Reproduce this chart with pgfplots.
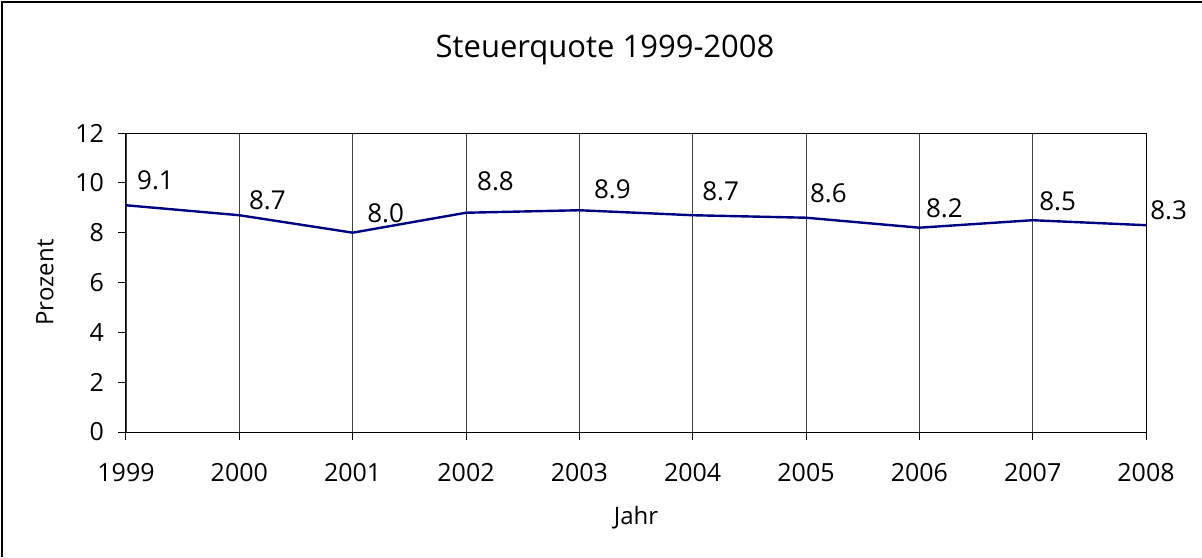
\documentclass[border=0pt]{standalone}
\usepackage{pgfplots}
\pgfplotsset{compat=1.18}
\usepackage{pgfplotstable}
\usepackage{fontspec}
\setmainfont{Open Sans}
\definecolor{excelnavy}{RGB}{0,0,128}

% year, value, label offset from the point (pt)
\pgfplotstableread{
year  val  dx    dy
1999  9.1  14.75 12.4
2000  8.7  14.0  7.5
2001  8.0  16.5  9.8
2002  8.8  14.75 15.5
2003  8.9  16.5  10.5
2004  8.7  14.0  12.0
2005  8.6  11.2  12.3
2006  8.2  12.5  9.8
2007  8.5  12.5  9.3
2008  8.3  11.3  7.5
}\quote

\begin{document}
\begin{tikzpicture}
\useasboundingbox (-63pt,-62.5pt) rectangle (538pt,216pt);
\draw[line width=0.8pt] (-62pt,-62.5pt) -- (-62pt,215pt) -- (538pt,215pt);
\begin{axis}[
    at={(0,0)}, anchor=south west,
    scale only axis,
    width=510pt, height=149.5pt,
    xmin=1999, xmax=2008,
    ymin=0, ymax=12,
    xtick=data,
    ytick={0,2,...,12},
    xticklabel style={/pgf/number format/1000 sep={}, font=\fontsize{12.5}{15}\selectfont, yshift=-8pt},
    yticklabel style={font=\fontsize{12.5}{15}\selectfont, xshift=-3.5pt},
    /pgf/number format/assume math mode=true,
    tick align=outside,
    tick pos=left,
    major tick length=4pt,
    tick style={black, line width=0.5pt},
    axis line style={line width=0.5pt},
    xmajorgrids,
    grid style={black!75, line width=0.45pt},
    title={Steuerquote 1999-2008},
    title style={font=\fontsize{15.5}{18}\selectfont, at={(0.4696,1)}, anchor=base, yshift=32pt},
    xlabel={Jahr},
    xlabel style={font=\fontsize{12}{14}\selectfont, at={(axis description cs:0.5,0)}, anchor=center, yshift=-43pt},
    ylabel={Prozent},
    ylabel style={font=\fontsize{12}{14}\selectfont, at={(axis description cs:-0.0794,0.5)}, anchor=center},
    clip=false,
]
\addplot[excelnavy, line width=1.2pt, no marks,
    visualization depends on={\thisrow{dx} \as \labdx},
    visualization depends on={\thisrow{dy} \as \labdy},
    nodes near coords,
    point meta=explicit symbolic,
    nodes near coords style={black, font=\fontsize{13}{15}\selectfont, anchor=center, xshift=\labdx pt, yshift=\labdy pt},
] table[x=year, y=val, meta=val] {\quote};
\end{axis}
\end{tikzpicture}
\end{document}
